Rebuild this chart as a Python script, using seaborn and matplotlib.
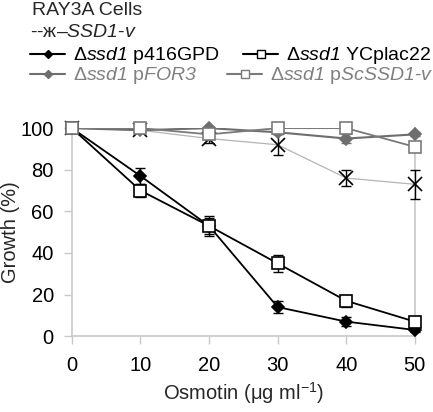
import numpy as np
import pandas as pd
import matplotlib
matplotlib.use('Agg')
import matplotlib.pyplot as plt
from matplotlib.lines import Line2D
import seaborn as sns

# data
osmotin = [0, 10, 20, 30, 40, 50]
ssd1_v = [100, 99, 95, 92, 76, 73]
ssd1_v_err = [0, 1, 2, 5, 4, 7]
p416gpd = [100, 77, 53, 14, 7, 3]
p416gpd_err = [0, 4, 4, 3, 2, 1]
ycplac22 = [100, 70, 53, 35, 17, 7]
ycplac22_err = [0, 3, 5, 4, 3, 2]
pfor3 = [100, 99, 100, 98, 95, 97]
pfor3_err = [0, 1, 1, 1, 2, 1]
pscssd1 = [100, 100, 97, 100, 100, 91]
pscssd1_err = [0, 1, 2, 1, 1, 2]

series = {
    'SSD1-v': (ssd1_v, ssd1_v_err),
    'p416GPD': (p416gpd, p416gpd_err),
    'YCplac22': (ycplac22, ycplac22_err),
    'pFOR3': (pfor3, pfor3_err),
    'pScSSD1-v': (pscssd1, pscssd1_err),
}
rows = []
for name, (vals, errs) in series.items():
    for x, v, e in zip(osmotin, vals, errs):
        rows.append({'osmotin': x, 'growth': v, 'err': e, 'strain': name})
df = pd.DataFrame(rows)

sns.set_style('white')
plt.rcParams['font.family'] = ['Liberation Sans', 'DejaVu Sans']
# \mathrm is used for the italic gene names, \mathsf for upright bits
plt.rcParams['mathtext.fontset'] = 'custom'
plt.rcParams['mathtext.rm'] = 'Liberation Sans:italic'
plt.rcParams['mathtext.it'] = 'Liberation Sans:italic'
plt.rcParams['mathtext.sf'] = 'Liberation Sans'

line_col = {'SSD1-v': '#b4b4b4', 'p416GPD': 'black', 'YCplac22': 'black',
            'pFOR3': '#6e6e6e', 'pScSSD1-v': '#7a7a7a'}
err_col = {'SSD1-v': 'black', 'p416GPD': 'black', 'YCplac22': 'black',
           'pFOR3': '#6e6e6e', 'pScSSD1-v': '#7a7a7a'}
mk = {'SSD1-v': 'x', 'p416GPD': 'D', 'YCplac22': 's', 'pFOR3': 'D', 'pScSSD1-v': 's'}
mfc = {'SSD1-v': 'black', 'p416GPD': 'black', 'YCplac22': 'white',
       'pFOR3': '#6e6e6e', 'pScSSD1-v': 'white'}
mec = {'SSD1-v': 'black', 'p416GPD': 'black', 'YCplac22': 'black',
       'pFOR3': '#6e6e6e', 'pScSSD1-v': '#7a7a7a'}
msize = {'SSD1-v': 10, 'p416GPD': 5.8, 'YCplac22': 8.5, 'pFOR3': 5.8, 'pScSSD1-v': 8.5}
lw = {'SSD1-v': 0.9, 'p416GPD': 1.3, 'YCplac22': 1.3, 'pFOR3': 1.5, 'pScSSD1-v': 1.3}

fig = plt.figure(figsize=(4.33, 4.12), dpi=100)
ax = fig.add_axes([0.166, 0.184, 0.792, 0.505])

order = ['SSD1-v', 'pFOR3', 'p416GPD', 'YCplac22', 'pScSSD1-v']
for name in order:
    sub = df[df['strain'] == name]
    sns.lineplot(data=sub, x='osmotin', y='growth', ax=ax, color=line_col[name],
                 linewidth=lw[name], errorbar=None, legend=False, zorder=2)
    ax.errorbar(sub['osmotin'], sub['growth'], yerr=sub['err'], fmt='none',
                ecolor=err_col[name], elinewidth=1.0, capsize=3.5, capthick=1.0,
                zorder=3, clip_on=False)
    ax.plot(sub['osmotin'], sub['growth'], linestyle='none', marker=mk[name],
            markersize=msize[name], markerfacecolor=mfc[name], markeredgecolor=mec[name],
            markeredgewidth=1.2, zorder=4, clip_on=False)

ax.set_xlim(0, 50)
ax.set_ylim(0, 100)
ax.set_xticks(osmotin)
ax.set_yticks([0, 20, 40, 60, 80, 100])
ax.tick_params(axis='both', labelsize=14.5, colors='black', length=6, width=1,
               direction='out', bottom=True, left=True)
ax.tick_params(axis='y', pad=7)
ax.tick_params(axis='x', pad=8)
ax.tick_params(axis='both', color='#c8c8c8')
for s in ['left', 'bottom', 'right']:
    ax.spines[s].set_color('#c8c8c8')
    ax.spines[s].set_linewidth(1.2)
ax.spines['top'].set_visible(False)
ax.set_xlabel('Osmotin (μg ml$^{\\mathsf{-1}}$)', fontsize=14.5, labelpad=4)
ax.set_ylabel('Growth (%)', fontsize=14.5, labelpad=0)

# legend block
fig.text(0.074, 0.995, 'RAY3A Cells', fontsize=14, va='top', ha='left')
fig.text(0.069, 0.92, '--ж–$\\mathrm{SSD1}$-$\\mathrm{v}$', fontsize=14, va='center', ha='left')

labels = {'p416GPD': 'Δ$\\mathrm{ssd1}$ p416GPD',
          'YCplac22': 'Δ$\\mathrm{ssd1}$ YCplac22',
          'pFOR3': 'Δ$\\mathrm{ssd1}$ p$\\mathrm{FOR3}$',
          'pScSSD1-v': 'Δ$\\mathrm{ssd1}$ p$\\mathrm{ScSSD1}$-$\\mathrm{v}$'}
text_col = {'p416GPD': 'black', 'YCplac22': 'black', 'pFOR3': '#808080', 'pScSSD1-v': '#808080'}
# (left x, centre y) of each legend entry, in figure pixels
spots = {'p416GPD': (30, 56), 'YCplac22': (243, 56), 'pFOR3': (30, 76), 'pScSSD1-v': (227, 76)}
for name, (px, py) in spots.items():
    h = Line2D([], [], color=line_col[name], linewidth=1.5, marker=mk[name],
               markersize=msize[name] * 0.7, markerfacecolor=mfc[name],
               markeredgecolor=mec[name])
    leg = fig.legend([h], [labels[name]], loc='center left',
                     bbox_to_anchor=(px / 433, 1 - py / 412), frameon=False, fontsize=14,
                     handlelength=1.8, handletextpad=0.4, borderpad=0, borderaxespad=0,
                     labelcolor=text_col[name])

fig.savefig('out.png', dpi=100)
